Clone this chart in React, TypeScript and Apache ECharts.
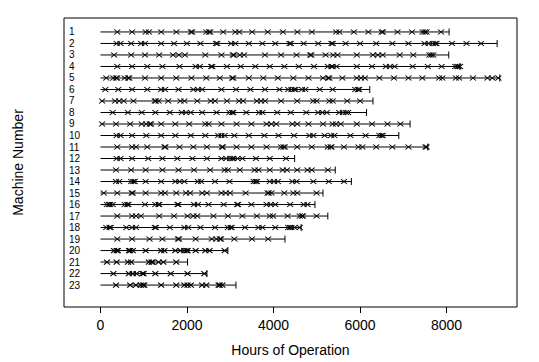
import React, { useEffect, useRef } from "react";
import * as echarts from "echarts";

const machines = [1, 2, 3, 4, 5, 6, 7, 8, 9, 10, 11, 12, 13, 14, 15, 16, 17, 18, 19, 20, 21, 22, 23];
const xTicks = [0, 2000, 4000, 6000, 8000];
const endHours = [8060, 9171, 8052, 8314, 9231, 6226, 6300, 6151, 7158, 6897, 7568, 4489, 5428, 5801, 5145, 4958, 5256, 4638, 4265, 2945, 2013, 2460, 3132];

const failures1 = [388, 731, 1045, 1119, 1403, 1754, 2090, 2120, 2448, 2510, 2535, 2836, 3119, 3209, 3507, 3866, 4217, 4552, 4888, 5448, 5523, 5858, 6194, 6500, 6530, 6866, 7202, 7448, 7500, 7537, 7873];
const failures2 = [373, 462, 708, 939, 1029, 1402, 1700, 1998, 2311, 2670, 2700, 3020, 3117, 3430, 3743, 4041, 4370, 4400, 4697, 5033, 5340, 5370, 5667, 6002, 6375, 6748, 7120, 7493, 7590, 7680, 7740, 7769, 8127, 8463, 8798];
const failures3 = [313, 708, 1029, 1357, 1678, 1812, 1953, 2423, 2796, 3060, 3085, 3221, 3318, 3803, 4175, 4533, 4850, 4875, 5204, 5383, 5480, 5927, 6300, 6412, 6524, 6919, 7232, 7605, 7650, 7695];
const failures4 = [388, 731, 1081, 1432, 1827, 2200, 2296, 2560, 2585, 2923, 3243, 3579, 3914, 4250, 4585, 4936, 5256, 5340, 5365, 5458, 5927, 6278, 6599, 6695, 6800, 7217, 7568, 7888, 8202, 8250, 8276, 8314];
const failures5 = [134, 298, 360, 385, 559, 640, 665, 1029, 1402, 1752, 2103, 2446, 2759, 3045, 3070, 3430, 3765, 4101, 4459, 4809, 5145, 5265, 5290, 5592, 5927, 6024, 6114, 6449, 6785, 7120, 7441, 7829, 7903, 8217, 8291, 8612, 8947, 9059, 9200];
const failures6 = [112, 410, 731, 1081, 1402, 1491, 1804, 2147, 2252, 2349, 2796, 3132, 3467, 3803, 4138, 4339, 4414, 4480, 4511, 4660, 4735, 5070, 5368, 5890, 5950, 5980];
const failures7 = [37, 336, 432, 537, 761, 1255, 1280, 1342, 1566, 1849, 1939, 2237, 2550, 2647, 2923, 3206, 3296, 3616, 3713, 3803, 4175, 4548, 4921, 4995, 5294, 5368, 5704, 6002];
const failures8 = [283, 634, 954, 1268, 1603, 1879, 1976, 2088, 2349, 2684, 2982, 3045, 3070, 3370, 3668, 3743, 4086, 4399, 4757, 5033, 5130, 5234, 5518, 5607, 5680, 5726];
const failures9 = [37, 358, 686, 954, 1059, 1140, 1170, 1402, 1730, 2050, 2423, 2498, 2796, 3146, 3489, 3840, 3952, 4064, 4436, 4548, 4809, 5145, 5368, 5443, 5555, 5927, 6278, 6636, 6934];
const failures10 = [373, 462, 731, 1059, 1402, 1730, 2088, 2423, 2721, 2796, 2871, 3094, 3430, 3788, 4116, 4474, 4831, 4921, 5182, 5331, 5406, 5778, 6129, 6449, 6500, 6524];
const failures11 = [388, 731, 820, 1081, 1480, 1500, 1827, 2147, 2460, 2805, 2830, 3146, 3489, 3840, 4175, 4230, 4260, 4548, 4884, 5256, 5320, 5340, 5629, 5965, 6054, 6375, 6748, 7120, 7515, 7540];
const failures12 = [373, 462, 731, 1103, 1432, 1775, 2125, 2460, 2796, 2908, 2997, 3050, 3072, 3169, 3281, 3594, 3914, 4287];
const failures13 = [358, 708, 1044, 1432, 1804, 2162, 2535, 2871, 2945, 3221, 3564, 3653, 3914, 4213, 4310, 4548, 4787, 4884, 5256];
const failures14 = [358, 432, 708, 760, 790, 1044, 1402, 1730, 1827, 1939, 2252, 2326, 2647, 2982, 3542, 3590, 3616, 3914, 4011, 4101, 4436, 4533, 4921, 5279, 5629];
const failures15 = [75, 388, 720, 745, 1044, 1402, 1491, 1752, 1976, 2073, 2349, 2460, 2796, 2893, 2997, 3355, 3865, 3890, 3952, 4250, 4459, 4548, 4995];
const failures16 = [149, 200, 224, 283, 559, 620, 645, 1029, 1268, 1340, 1357, 1780, 1800, 2162, 2252, 2498, 2848, 3160, 3180, 3489, 3840, 3937, 4041, 4384, 4697, 4787];
const failures17 = [388, 731, 820, 932, 1357, 1700, 2013, 2147, 2237, 2610, 2945, 3281, 3616, 3914, 3989, 4325, 4608, 4660, 4682, 4995];
const failures18 = [134, 210, 235, 596, 731, 820, 1255, 1280, 1603, 1939, 2028, 2311, 2647, 2945, 3010, 3030, 3340, 3653, 3743, 4041, 4339, 4380, 4414, 4489, 4608];
const failures19 = [388, 731, 1133, 1432, 1790, 1815, 2200, 2572, 2684, 2760, 2785, 3094, 3504, 3877];
const failures20 = [313, 375, 400, 660, 685, 746, 1044, 1402, 1476, 1730, 1849, 1939, 1990, 2013, 2200, 2423, 2520, 2871];
const failures21 = [149, 373, 634, 708, 1118, 1180, 1205, 1342, 1454, 1752];
const failures22 = [298, 656, 746, 835, 970, 995, 1268, 1625, 2013, 2401];
const failures23 = [358, 686, 820, 932, 985, 1010, 1402, 1752, 1939, 2013, 2088, 2349, 2446, 2732, 2757, 2818];

const failureHours = [
  failures1, failures2, failures3, failures4, failures5, failures6, failures7, failures8,
  failures9, failures10, failures11, failures12, failures13, failures14, failures15, failures16,
  failures17, failures18, failures19, failures20, failures21, failures22, failures23,
];

const FONT = "'Liberation Sans', Arial, Helvetica, sans-serif";

export default function App() {
  const ref = useRef<HTMLDivElement>(null);

  useEffect(() => {
    if (!ref.current) return;
    const chart = echarts.init(ref.current, undefined, { renderer: "svg" });

    const lineData = machines.map((m, i) => [endHours[i], m]);
    const pointData: number[][] = [];
    machines.forEach((m, i) => {
      failureHours[i].forEach((h) => pointData.push([h, m]));
    });

    chart.setOption({
      animation: false,
      backgroundColor: "#fff",
      grid: {
        left: 64,
        right: 22,
        top: 18,
        bottom: 54,
        show: true,
        borderColor: "#000",
        borderWidth: 1,
        backgroundColor: "transparent",
      },
      xAxis: {
        type: "value",
        position: "bottom",
        min: -844,
        max: 9630,
        name: "Hours of Operation",
        nameLocation: "middle",
        nameGap: 36,
        nameTextStyle: { fontSize: 14, color: "#000", fontFamily: FONT },
        axisLine: { show: false, onZero: false },
        splitLine: { show: false },
        axisTick: {
          show: true,
          customValues: xTicks,
          length: 6,
          lineStyle: { color: "#000", width: 1 },
        },
        axisLabel: {
          customValues: xTicks,
          margin: 11,
          fontSize: 14,
          color: "#000",
          fontFamily: FONT,
          formatter: (v: number) => String(v),
        },
      },
      yAxis: {
        type: "value",
        inverse: true,
        min: -0.213,
        max: 24.906,
        name: "Machine Number",
        nameLocation: "middle",
        nameGap: 39,
        nameRotate: 90,
        nameTextStyle: { fontSize: 14, color: "#000", fontFamily: FONT },
        axisLine: { show: false, onZero: false },
        splitLine: { show: false },
        axisTick: { show: false },
        axisLabel: {
          inside: true,
          customValues: machines,
          margin: 5,
          fontSize: 10,
          color: "#000",
          fontFamily: FONT,
          formatter: (v: number) => String(v),
        },
      },
      series: [
        {
          type: "custom",
          silent: true,
          data: lineData,
          encode: { x: 0, y: 1 },
          renderItem: (params: any, api: any) => {
            const end = api.value(0);
            const y = api.value(1);
            const p0 = api.coord([0, y]);
            const p1 = api.coord([end, y]);
            return {
              type: "group",
              children: [
                {
                  type: "line",
                  shape: { x1: p0[0], y1: p0[1], x2: p1[0], y2: p1[1] },
                  style: { stroke: "#000", lineWidth: 1 },
                },
                {
                  type: "line",
                  shape: { x1: p1[0], y1: p1[1] - 3.5, x2: p1[0], y2: p1[1] + 3.5 },
                  style: { stroke: "#000", lineWidth: 1 },
                },
              ],
            };
          },
        },
        {
          type: "scatter",
          silent: true,
          data: pointData,
          symbol: "path://M0,0L10,8M10,0L0,8",
          symbolSize: [6, 5],
          itemStyle: { color: "transparent", borderColor: "#000", borderWidth: 1, opacity: 1 },
        },
      ],
    });

    return () => chart.dispose();
  }, []);

  return (
    <div
      ref={ref}
      style={{ position: "fixed", left: 0, top: 0, width: 539, height: 362 }}
    />
  );
}
